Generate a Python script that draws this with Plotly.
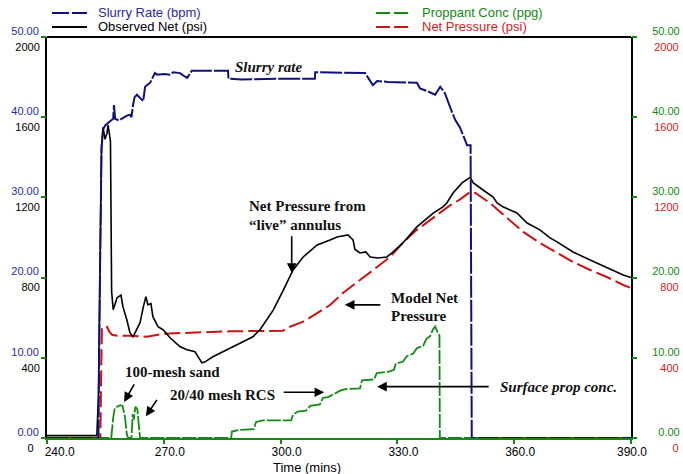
import plotly.graph_objects as go

# ---- treatment data -------------------------------------------------------
# Slurry rate (bpm)
rate_t = [240, 253.2, 253.6, 254.0, 254.4, 255.0, 256.2, 257.0, 257.2, 257.5, 258.5,
          259.5, 260.5, 261.3, 261.7, 262.1, 262.5, 263.1, 264.0, 264.7, 265.2, 266.5,
          267.7, 268.3, 270.0, 271.6, 272.4, 274.2, 275.0, 276.0, 277.2, 286.5, 286.6,
          290.0, 300.0, 308.8, 308.9, 321.7, 322.5, 323.2, 323.7, 324.8, 327.6, 335.0,
          335.8, 337.9, 339.7, 341.0, 342.2, 343.5, 344.8, 346.1, 347.4, 347.9, 348.8,
          348.9, 349.0, 349.1, 390]
rate_v = [0, 0, 20, 36, 38.5, 39, 39.5, 39.8, 41.5, 39.8, 39.6,
          39.9, 40.2, 40.3, 40.0, 41.5, 42.5, 42.8, 42.3, 42.0, 43.8, 44.3,
          45.5, 45.3, 45.4, 45.3, 45.6, 45.5, 45.2, 44.9, 45.8, 45.8, 44.8,
          44.7, 44.8, 44.8, 45.6, 45.5, 44.9, 44.3, 44.0, 44.5, 44.4, 44.3,
          43.6, 43.2, 42.8, 43.8, 43.0, 41.3, 39.7, 38.7, 37.2, 36.5, 36.5,
          20, 5, 0, 0]

# Observed net pressure from the live annulus (psi)
obs_t = [240, 252.8, 253.2, 253.6, 254.0, 254.4, 254.9, 255.4, 255.7, 256.3, 256.6,
         257.0, 258.0, 259.0, 259.5, 260.5, 261.3, 262.1, 263.1, 263.9, 264.7, 265.4,
         265.9, 266.7, 267.2, 268.5, 269.8, 271.6, 274.2, 276.0, 278.0, 279.8, 280.6,
         282.6, 286.2, 289.6, 292.9, 294.7, 296.5, 298.1, 300.7, 303.2, 305.8, 309.4,
         312.7, 314.5, 317.3, 318.6, 319.1, 320.4, 321.9, 323.0, 325.0, 327.3, 328.9,
         331.4, 335.0, 338.4, 339.2, 341.7, 342.7, 344.3, 346.6, 348.7, 349.5, 352.0,
         354.6, 355.6, 357.1, 360.7, 363.3, 366.6, 369.2, 371.0, 375.1, 379.5, 383.8,
         388.0, 390]
obs_v = [12, 12, 200, 900, 1450, 1550, 1490, 1520, 1560, 1480, 730,
         640, 700, 713, 655, 590, 525, 505, 540, 575, 650, 705,
         665, 670, 605, 555, 540, 500, 455, 440, 430, 375, 380,
         405, 440, 475, 505, 540, 590, 638, 738, 838, 903, 963,
         988, 1003, 1013, 988, 940, 923, 928, 903, 898, 903, 928,
         973, 1053, 1105, 1122, 1153, 1172, 1222, 1272, 1300, 1272, 1237,
         1202, 1172, 1153, 1122, 1072, 1038, 998, 978, 928, 888, 848,
         813, 800]

# Proppant concentration (ppg)
prop_t = [240, 256.5, 257.0, 257.4, 258.0, 258.8, 259.4, 260.0, 260.5, 260.8, 261.7,
          262.0, 262.3, 262.7, 263.2, 263.6, 263.9, 287.3, 287.5, 289.2, 293.1, 293.7,
          295.4, 302.7, 303.2, 304.4, 306.5, 307.6, 310.1, 310.9, 312.2, 315.3, 316.7,
          320.4, 320.9, 324.0, 324.7, 328.1, 329.1, 329.6, 331.4, 332.4, 334.0, 335.0,
          336.6, 337.5, 338.4, 339.2, 339.7, 340.5, 340.8, 340.9, 390]
prop_v = [0, 0, 2.5, 3.7, 3.9, 4.1, 4.0, 2.7, 0.5, 0, 0,
          3.0, 2.3, 3.9, 3.6, 1.0, 0, 0, 0.8, 1.0, 1.1, 2.0,
          2.2, 2.2, 2.9, 3.3, 3.4, 4.0, 4.2, 5.0, 5.1, 5.9, 6.1,
          6.2, 7.2, 7.3, 8.1, 8.3, 8.5, 9.3, 9.5, 10.2, 10.5, 11.2,
          11.5, 12.4, 12.7, 13.6, 13.9, 13.0, 12.8, 0, 0]

# Model net pressure (psi)
model_t = [240, 253.7, 253.9, 254.1, 255.4, 256.0, 256.7, 258.0, 261.3, 265.7, 269.8,
           280.0, 287.0, 300.6, 302.4, 305.8, 309.4, 312.7, 316.0, 321.2, 324.8, 328.1,
           331.4, 335.0, 338.4, 341.7, 343.5, 346.1, 348.7, 350.0, 353.8, 358.2, 362.3,
           366.6, 371.0, 375.1, 379.5, 383.8, 388.0, 390]
model_v = [0, 0, 300, 550, 555, 530, 515, 510, 510, 505, 520,
           528, 532, 535, 555, 580, 625, 663, 723, 798, 853, 903,
           973, 1038, 1088, 1137, 1160, 1190, 1227, 1222, 1172, 1097, 1028,
           973, 923, 878, 838, 803, 763, 748]

time_ticks = [240, 270, 300, 330, 360, 390]
rate_ticks = [0, 10, 20, 30, 40, 50]
psi_ticks = [0, 400, 800, 1200, 1600, 2000]

BLUE = "#10107a"
BLUE_TXT = "#2a2a9a"
GREEN = "#138a13"
RED = "#c81414"
RED_TXT = "#d42020"
NBSP = "\u00a0"

fig = go.Figure()
fig.add_trace(go.Scatter(x=prop_t, y=prop_v, yaxis="y", mode="lines",
                         line=dict(color=GREEN, width=1.8, dash="14px,2px")))
fig.add_trace(go.Scatter(x=model_t, y=model_v, yaxis="y2", mode="lines",
                         line=dict(color=RED, width=2, dash="16px,5px")))
fig.add_trace(go.Scatter(x=obs_t, y=obs_v, yaxis="y3", mode="lines",
                         line=dict(color="black", width=1.6)))
fig.add_trace(go.Scatter(x=rate_t, y=rate_v, yaxis="y4", mode="lines",
                         line=dict(color=BLUE, width=2, dash="22px,2px")))

tick_common = dict(ticks="outside", ticklen=4, tickwidth=2, tickcolor=GREEN,
                   showgrid=False, zeroline=False, anchor="x", automargin=False)

fig.update_layout(
    width=683, height=474,
    margin=dict(l=47, r=52, t=37, b=36),
    plot_bgcolor="white", paper_bgcolor="white",
    showlegend=False,
    font=dict(family="Liberation Sans, Arial, sans-serif", size=11, color="black"),
    xaxis=dict(range=[240, 390], tickvals=time_ticks,
               ticktext=[NBSP * 4 + "240.0", "270.0", "300.0", "330.0", "360.0",
                         "390.0" + NBSP * 3],
               tickfont=dict(size=12, color="black"), ticklabelshift=6,
               ticklabelstandoff=-2,
               ticks="outside", ticklen=4, tickwidth=2, tickcolor=GREEN,
               showline=True, linecolor=GREEN, linewidth=2, automargin=False,
               showgrid=False, zeroline=False),
    # proppant concentration, right side (green)
    yaxis=dict(range=[0, 50], side="right", tickvals=rate_ticks,
               ticktext=[NBSP * 2 + "0.00", "10.00", "20.00", "30.00", "40.00", "50.00"],
               tickfont=dict(size=11, color=GREEN), ticklabelshift=-6,
               ticklabelstandoff=13,
               showline=True, linecolor="black", linewidth=2, **tick_common),
    # model net pressure, right side (red)
    yaxis2=dict(range=[0, 2000], side="right", overlaying="y", tickvals=psi_ticks,
                ticktext=[NBSP * 6 + "0", NBSP * 2 + "400", NBSP * 2 + "800",
                          "1200", "1600", "2000"],
                tickfont=dict(size=11, color=RED_TXT), ticklabelshift=10,
                ticklabelstandoff=16, showline=False, **tick_common),
    # observed net pressure, left side (black)
    yaxis3=dict(range=[0, 2000], side="left", overlaying="y", tickvals=psi_ticks,
                ticktext=["0" + NBSP * 2, "400", "800", "1200", "1600", "2000"],
                tickfont=dict(size=11, color="black"), ticklabelshift=10,
                showline=False, **tick_common),
    # slurry rate, left side (blue)
    yaxis4=dict(range=[0, 50], side="left", overlaying="y", tickvals=rate_ticks,
                ticktext=["0.00", "10.00", "20.00", "30.00", "40.00", "50.00"],
                tickfont=dict(size=11, color=BLUE_TXT), ticklabelshift=-6,
                showline=True, linecolor="black", linewidth=2, **tick_common),
)

# top frame line
fig.add_shape(type="line", xref="paper", yref="paper", x0=0, x1=1, y0=1, y1=1,
              line=dict(color="black", width=2))

# legend keys
legend_items = [
    (0.0086, 0.0685, 1.060, BLUE, "17px,3px", "Slurry Rate (bpm)", BLUE_TXT),
    (0.0086, 0.0685, 1.025, "black", "solid", "Observed Net (psi)", "black"),
    (0.5634, 0.6233, 1.060, GREEN, "14px,4px", "Proppant Conc (ppg)", GREEN),
    (0.5634, 0.6233, 1.025, RED, "14px,4px", "Net Pressure (psi)", RED_TXT),
]
for x0, x1, yy, col, dash, label, tcol in legend_items:
    fig.add_shape(type="line", xref="paper", yref="paper", x0=x0, x1=x1, y0=yy, y1=yy,
                  line=dict(color=col, width=2, dash=dash))
    fig.add_annotation(xref="paper", yref="paper", x=x1 + 0.0154, y=yy + 0.002,
                       text=label, showarrow=False, xanchor="left", yanchor="middle",
                       font=dict(size=13, color=tcol))

# axis title
fig.add_annotation(xref="paper", yref="paper", x=0.445, y=-0.0725, text="Time (mins)",
                   showarrow=False, xanchor="center", yanchor="middle",
                   font=dict(size=13, color="black"))

# callouts
serif = "Liberation Serif, Times New Roman, serif"
labels = [
    (297.0, 46.3, "<b><i>Slurry rate</i></b>", "center"),
    (291.4, 28.9, "<b>Net Pressure from</b>", "left"),
    (291.4, 26.5, "<b>\u201clive\u201d annulus</b>", "left"),
    (327.9, 17.4, "<b>Model Net</b>", "left"),
    (327.9, 15.2, "<b>Pressure</b>", "left"),
    (259.5, 8.2, "<b>100-mesh sand</b>", "left"),
    (271.1, 5.4, "<b>20/40 mesh RCS</b>", "left"),
    (371.3, 6.4, "<b><i>Surface prop conc.</i></b>", "center"),
]
for x, y, txt, anchor in labels:
    fig.add_annotation(x=x, y=y, xref="x", yref="y", text=txt, showarrow=False,
                       xanchor=anchor, yanchor="middle",
                       font=dict(family=serif, size=15, color="#111111"))

arrows = [
    (302.85, 20.6, 0, -38),
    (316.5, 16.6, 37, 0),
    (259.8, 4.5, 11, -19),
    (311.2, 5.7, -42, 0),
    (265.4, 2.7, 12, -18),
    (324.8, 6.4, 113, 0),
]
for x, y, ax, ay in arrows:
    fig.add_annotation(x=x, y=y, xref="x", yref="y", ax=ax, ay=ay, text="",
                       showarrow=True, arrowhead=2, arrowsize=1.2, arrowwidth=1.6,
                       arrowcolor="black")

fig.write_html("out.html")
